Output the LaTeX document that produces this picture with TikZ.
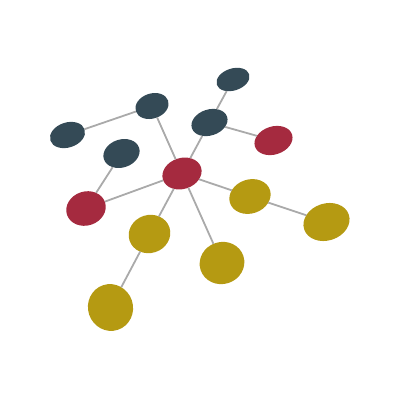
\documentclass[tikz,border=0pt]{standalone}
\usetikzlibrary{shapes.geometric}
\definecolor{slate}{HTML}{344A56}
\definecolor{wine}{HTML}{A52A3F}
\definecolor{mustard}{HTML}{B59A12}
\definecolor{wire}{HTML}{AAAAAA}
\begin{document}
\begin{tikzpicture}[x=1pt,y=-1pt,line width=1.8pt,
                    blob/.style={ellipse,inner sep=0pt,outer sep=0pt,rotate=18},
                    dark/.style={blob,fill=slate},
                    hub/.style={blob,fill=wine},
                    leaf/.style={blob,fill=mustard}]
\useasboundingbox (0,0) rectangle (400,400);
\node[hub,minimum width=40pt,minimum height=31pt] (c) at (182,173.5) {};
\node[dark,minimum width=36pt,minimum height=25pt] (d1) at (67.5,135) {};
\node[dark,minimum width=34pt,minimum height=25pt] (d2) at (152,106) {};
\node[dark,minimum width=37pt,minimum height=28pt] (d3) at (121.5,153.5) {};
\node[dark,minimum width=37pt,minimum height=26pt] (d4) at (209.5,122.5) {};
\node[dark,minimum width=34pt,minimum height=22pt] (d5) at (233,79.5) {};
\node[hub,minimum width=40pt,minimum height=34pt] (r1) at (86,208.5) {};
\node[hub,minimum width=39pt,minimum height=28pt] (r2) at (273.5,140.5) {};
\node[leaf,minimum width=42pt,minimum height=34pt] (y1) at (250,196.5) {};
\node[leaf,minimum width=47pt,minimum height=37pt] (y2) at (326.5,222) {};
\node[leaf,minimum width=42pt,minimum height=38pt] (y3) at (149.5,234) {};
\node[leaf,minimum width=45pt,minimum height=42pt] (y4) at (222,263) {};
\node[leaf,minimum width=45pt,minimum height=47pt] (y5) at (110.5,307.5) {};
\path[draw=wire]
      (c) edge (d2)
          edge (d4)
          edge (r1)
          edge (y1)
          edge (y3)
          edge (y4)
      (d2) edge (d1)
      (d4) edge (d5)
           edge (r2)
      (r1) edge (d3)
      (y1) edge (y2)
      (y3) edge (y5);
\end{tikzpicture}
\end{document}
